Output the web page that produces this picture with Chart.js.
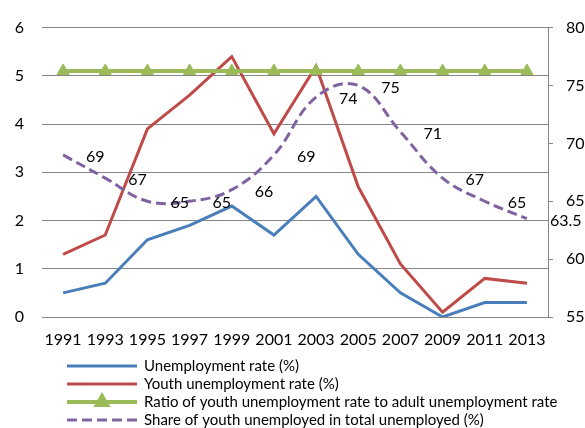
<!DOCTYPE html>
<html>
<head>
<meta charset="utf-8">
<script src="https://cdn.jsdelivr.net/npm/chart.js@4"></script>
<style>
  html, body { margin: 0; padding: 0; background: #fff; }
  #wrap { width: 585px; height: 428px; }
</style>
</head>
<body>
<div id="wrap"><canvas id="gameCanvas" width="585" height="428"></canvas></div>
<script>
const years = ['1991', '1993', '1995', '1997', '1999', '2001', '2003', '2005', '2007', '2009', '2011', '2013'];
const unemploymentRate = [0.5, 0.7, 1.6, 1.9, 2.3, 1.7, 2.5, 1.3, 0.5, 0, 0.3, 0.3];
const youthRate = [1.3, 1.7, 3.9, 4.6, 5.4, 3.8, 5.2, 2.7, 1.1, 0.1, 0.8, 0.7];
const youthAdultRatio = [5.1, 5.1, 5.1, 5.1, 5.1, 5.1, 5.1, 5.1, 5.1, 5.1, 5.1, 5.1];
const youthShare = [69, 67, 65, 65, 66, 69, 74, 75, 71, 67, 65, 63.5];

const FONT = 'Lato, "Open Sans", sans-serif';
const GRID = '#868686';

// value labels to the right of each point on the share line
const shareLabels = {
  id: 'shareLabels',
  afterDatasetsDraw(chart) {
    const ctx = chart.ctx;
    const meta = chart.getDatasetMeta(3);
    const values = chart.data.datasets[3].data;
    ctx.save();
    ctx.font = '16px ' + FONT;
    ctx.fillStyle = '#000';
    ctx.textAlign = 'left';
    ctx.textBaseline = 'middle';
    meta.data.forEach((pt, i) => {
      ctx.fillText(String(values[i]), pt.x + 23, pt.y + 2);
    });
    ctx.restore();
  },
};

// one legend entry per row under the axis
const stackedLegend = {
  id: 'stackedLegend',
  afterDraw(chart) {
    const ctx = chart.ctx;
    const x0 = 67, x1 = 137, textX = 144;
    let y = 366;
    ctx.save();
    ctx.font = '15px ' + FONT;
    ctx.textBaseline = 'middle';
    ctx.textAlign = 'left';
    chart.data.datasets.forEach((ds) => {
      ctx.strokeStyle = ds.borderColor;
      ctx.lineWidth = ds.borderWidth;
      ctx.setLineDash(ds.borderDash || []);
      ctx.beginPath();
      ctx.moveTo(x0, y);
      ctx.lineTo(x1, y);
      ctx.stroke();
      ctx.setLineDash([]);
      if (ds.pointStyle === 'triangle') {
        ctx.fillStyle = ds.pointBackgroundColor;
        ctx.strokeStyle = ds.pointBackgroundColor;
        Chart.helpers.drawPoint(ctx, { pointStyle: 'triangle', radius: 6, rotation: 0, borderWidth: 1 }, (x0 + x1) / 2, y);
      }
      ctx.fillStyle = '#000';
      ctx.fillText(ds.label, textX, y);
      y += 18;
    });
    ctx.restore();
  },
};

const ctx = document.getElementById('gameCanvas').getContext('2d');

new Chart(ctx, {
  type: 'line',
  data: {
    labels: years,
    datasets: [
      {
        label: 'Unemployment rate (%)',
        data: unemploymentRate,
        borderColor: '#4A7EBB',
        borderWidth: 3,
        pointRadius: 0,
        tension: 0,
        yAxisID: 'y',
        order: 4,
      },
      {
        label: 'Youth unemployment rate (%)',
        data: youthRate,
        borderColor: '#BE4B48',
        borderWidth: 3,
        pointRadius: 0,
        tension: 0,
        yAxisID: 'y',
        order: 3,
      },
      {
        label: 'Ratio of youth unemployment rate to adult unemployment rate',
        data: youthAdultRatio,
        borderColor: '#9BBB59',
        borderWidth: 4,
        pointStyle: 'triangle',
        pointRadius: 7,
        pointBackgroundColor: '#9BBB59',
        pointBorderColor: '#9BBB59',
        pointBorderWidth: 1,
        tension: 0,
        yAxisID: 'y',
        order: 2,
      },
      {
        label: 'Share of youth unemployed in total unemployed (%)',
        data: youthShare,
        borderColor: '#8064A2',
        borderWidth: 3,
        borderDash: [10, 5],
        pointRadius: 0,
        tension: 0.4,
        yAxisID: 'y2',
        order: 1,
      },
    ],
  },
  options: {
    responsive: false,
    animation: false,
    layout: { padding: { top: 26, bottom: 75, left: 0, right: 0 } },
    plugins: {
      legend: { display: false },
      tooltip: { enabled: false },
      title: { display: false },
    },
    scales: {
      x: {
        offset: true,
        grid: { display: false, drawTicks: false },
        border: { display: false },
        ticks: { color: '#000', font: { family: FONT, size: 16 }, padding: 13, maxRotation: 0, autoSkip: false },
        afterFit: (s) => { s.height = 36; },
      },
      y: {
        position: 'left',
        min: 0,
        max: 6,
        ticks: { stepSize: 1, color: '#000', font: { family: FONT, size: 16 }, padding: 18 },
        grid: { color: GRID, lineWidth: 1, drawTicks: false },
        border: { display: false },
        afterFit: (s) => { s.width = 42; },
      },
      y2: {
        position: 'right',
        min: 55,
        max: 80,
        ticks: { stepSize: 5, color: '#000', font: { family: FONT, size: 16 }, padding: 13 },
        grid: { drawOnChartArea: false, color: GRID, tickLength: 5 },
        border: { display: true, color: GRID, width: 1 },
        afterFit: (s) => { s.width = 37; },
      },
    },
  },
  plugins: [shareLabels, stackedLegend],
});
</script>
</body>
</html>
